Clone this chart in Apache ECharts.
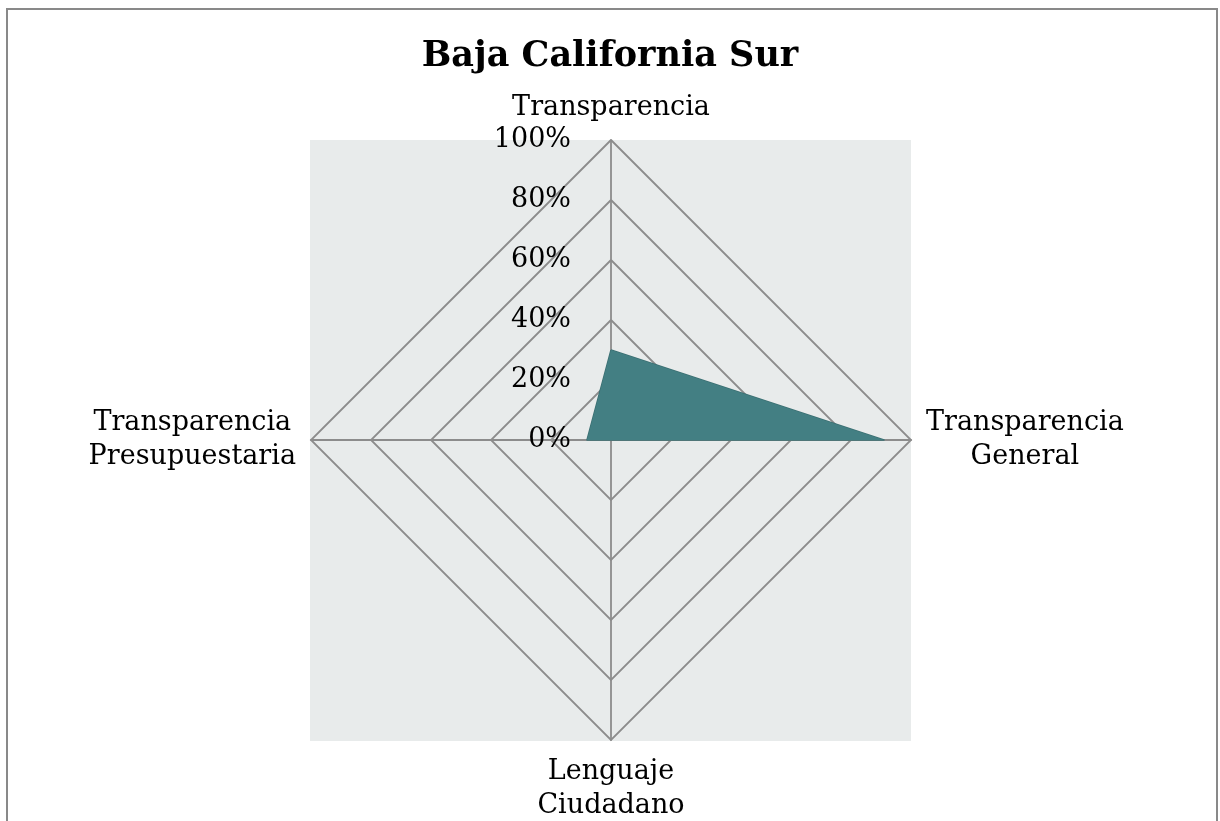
<!DOCTYPE html>
<html>
<head>
<meta charset="utf-8">
<title>Baja California Sur</title>
<script src="https://cdn.jsdelivr.net/npm/echarts@6/dist/echarts.min.js"></script>
<style>
  html, body { margin: 0; padding: 0; background: #fff; }
  #frame {
    position: absolute; left: 6px; top: 8px; width: 1208px; height: 830px;
    border: 2px solid #898989; border-bottom: none;
  }
  #chart { position: absolute; left: 0; top: 0; width: 1220px; height: 821px; }
</style>
</head>
<body>
<div id="frame"></div>
<div id="chart"></div>
<script>
// indicadores (orden contrario a las agujas del reloj desde arriba)
const indicadores = ['Transparencia', 'Transparencia\nPresupuestaria', 'Lenguaje\nCiudadano', 'Transparencia\nGeneral']
const valores = [30, 8, 0, 91]
const maxValor = 100

const fuente = "Georgia, 'DejaVu Serif', serif"
const gris = '#8c8c8c'

let chart = echarts.init(document.getElementById('chart'))

let option = {
  title: {
    text: 'Baja California Sur',
    left: 'center',
    top: 34,
    textStyle: {
      fontFamily: fuente,
      fontWeight: 'bold',
      fontSize: 35,
      color: '#000',
    },
  },
  // fondo gris del área del radar
  graphic: [
    {
      type: 'rect',
      z: -10,
      shape: { x: 310, y: 140, width: 601, height: 601 },
      style: { fill: '#e8ebeb' },
    },
  ],
  radar: {
    center: [611, 440],
    radius: 300,
    shape: 'polygon',
    splitNumber: 5,
    axisName: {
      color: '#000',
      fontFamily: fuente,
      fontSize: 27,
      lineHeight: 34,
      formatter: (name) => name.split('\n').map((l) => '{c|' + l + '}').join('\n'),
      rich: {
        c: { align: 'center', fontFamily: fuente, fontSize: 27, lineHeight: 34, color: '#000' },
      },
    },
    nameGap: 15,
    indicator: indicadores.map((name, i) => ({
      name: name,
      min: 0,
      max: maxValor,
      axisLabel: i === 0
        ? {
            show: true,
            color: '#000',
            fontFamily: fuente,
            fontSize: 27,
            margin: 40,
            formatter: (v) => v + '%',
          }
        : { show: false },
    })),
    splitLine: { lineStyle: { color: gris, width: 1.8 } },
    splitArea: { show: false },
    axisLine: { lineStyle: { color: gris, width: 1.8 } },
  },
  series: [
    {
      type: 'radar',
      symbol: 'none',
      data: [
        {
          value: valores,
          lineStyle: { color: '#3b6f72', width: 1.5 },
          areaStyle: { color: '#437f83', opacity: 1 },
        },
      ],
    },
  ],
}
chart.setOption(option)
</script>
</body>
</html>
